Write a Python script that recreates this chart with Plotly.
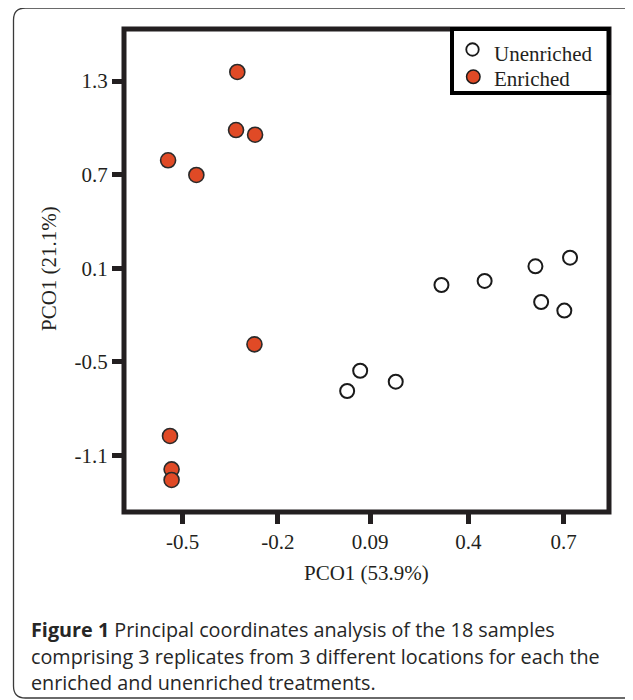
import plotly.graph_objects as go

# ---- data ----
unenriched_x = [0.315, 0.451, 0.611, 0.720, 0.629, 0.702, 0.059, 0.018, 0.171]
unenriched_y = [-0.007, 0.019, 0.113, 0.168, -0.116, -0.171, -0.556, -0.686, -0.626]
enriched_x = [-0.328, -0.332, -0.272, -0.546, -0.457, -0.274, -0.540, -0.535, -0.535]
enriched_y = [1.358, 0.986, 0.956, 0.792, 0.698, -0.387, -0.974, -1.188, -1.256]
x_ticks = [-0.5, -0.2, 0.09, 0.4, 0.7]
x_tick_labels = ["-0.5", "-0.2", "0.09", "0.4", "0.7"]
y_ticks = [1.3, 0.7, 0.1, -0.5, -1.1]
y_tick_labels = ["1.3", "0.7", "0.1", "-0.5", "-1.1"]
series_names = ["Unenriched", "Enriched"]
x_title = "PCO1 (53.9%)"
y_title = "PCO1 (21.1%)"
caption_lines = [
    "<b>Figure 1</b> Principal coordinates analysis of the 18 samples",
    "comprising 3 replicates from 3 different locations for each the",
    "enriched and unenriched treatments.",
]

# page body has an 8px margin; lay the figure out in reference-page pixels
OFF = 8
W, H = 633 - OFF, 700 - OFF
ML, MR, MT, MB = 116, 24, 21, 188
PW, PH = W - ML - MR, H - MT - MB


def px(X):
    return (X - OFF - ML) / PW


def py(Y):
    return (H - MB - (Y - OFF)) / PH


serif = "Liberation Serif, Times New Roman, serif"
ink = "#231f20"
orange = "#E04A26"

fig = go.Figure()
fig.add_trace(go.Scatter(
    x=unenriched_x, y=unenriched_y, mode="markers", name=series_names[0],
    marker=dict(size=14, color="white", line=dict(color="#1a1a1a", width=2)),
    showlegend=False,
))
fig.add_trace(go.Scatter(
    x=enriched_x, y=enriched_y, mode="markers", name=series_names[1],
    marker=dict(size=15, color=orange, line=dict(color="#2a2a2a", width=1.6)),
    showlegend=False,
))

axis_common = dict(
    showgrid=False, zeroline=False, showline=False,
    ticks="outside", ticklen=11, tickwidth=5, tickcolor=ink,
    tickfont=dict(family=serif, size=21, color=ink),
)
fig.update_xaxes(range=[-0.6849, 0.8427], tickvals=x_ticks, ticktext=x_tick_labels,
                 **axis_common)
fig.update_yaxes(range=[-1.4611, 1.6331], tickvals=y_ticks, ticktext=y_tick_labels,
                 **axis_common)

# card outline with rounded corners (right side runs off the page)
L, T, R, B, r = 13.5, 8, 644, 698, 12
card = (f"M {px(L+r)},{py(T)} L {px(R-r)},{py(T)} Q {px(R)},{py(T)} {px(R)},{py(T+r)} "
        f"L {px(R)},{py(B-r)} Q {px(R)},{py(B)} {px(R-r)},{py(B)} "
        f"L {px(L+r)},{py(B)} Q {px(L)},{py(B)} {px(L)},{py(B-r)} "
        f"L {px(L)},{py(T+r)} Q {px(L)},{py(T)} {px(L+r)},{py(T)} Z")


def circle(cx, cy, d, fill, lw):
    return dict(type="circle", xref="paper", yref="paper",
                x0=px(cx - d / 2), x1=px(cx + d / 2),
                y0=py(cy + d / 2), y1=py(cy - d / 2),
                fillcolor=fill, line=dict(color="#1a1a1a", width=lw))


shapes = [
    dict(type="path", xref="paper", yref="paper", path=card,
         line=dict(color="#3a3a3a", width=1.3), layer="below"),
    dict(type="rect", xref="paper", yref="paper", x0=0, x1=1, y0=0, y1=1,
         line=dict(color=ink, width=5)),
    # legend box and symbols
    dict(type="rect", xref="paper", yref="paper",
         x0=px(452), x1=px(608.5), y0=py(93), y1=py(29),
         fillcolor="white", line=dict(color="#000000", width=4)),
    circle(472.5, 49.5, 12.5, "white", 1.8),
    circle(473.3, 76.7, 13.5, orange, 1.5),
]

annotations = [
    dict(text=x_title, xref="paper", yref="paper", x=px(366), y=py(573),
         xanchor="center", yanchor="middle", showarrow=False,
         font=dict(family=serif, size=21, color=ink)),
    dict(text=y_title, xref="paper", yref="paper", x=px(49), y=py(269),
         xanchor="center", yanchor="middle", showarrow=False, textangle=-90,
         font=dict(family=serif, size=21, color=ink)),
    dict(text=series_names[0], xref="paper", yref="paper", x=px(492), y=py(53.5),
         xanchor="left", yanchor="middle", showarrow=False,
         font=dict(family=serif, size=21, color=ink)),
    dict(text=series_names[1], xref="paper", yref="paper", x=px(492), y=py(79.5),
         xanchor="left", yanchor="middle", showarrow=False,
         font=dict(family=serif, size=21, color=ink)),
]
for i, line in enumerate(caption_lines):
    annotations.append(dict(
        text=line, xref="paper", yref="paper", x=px(29), y=py(629.5 + 26.5 * i),
        xanchor="left", yanchor="middle", align="left", showarrow=False,
        font=dict(family="Open Sans, Noto Sans, sans-serif", size=19.8, color="#262626")))

fig.update_layout(
    width=W, height=H, autosize=False,
    margin=dict(l=ML, r=MR, t=MT, b=MB, pad=0),
    paper_bgcolor="white", plot_bgcolor="white",
    shapes=shapes, annotations=annotations,
    showlegend=False,
)

fig.write_html("out.html")
